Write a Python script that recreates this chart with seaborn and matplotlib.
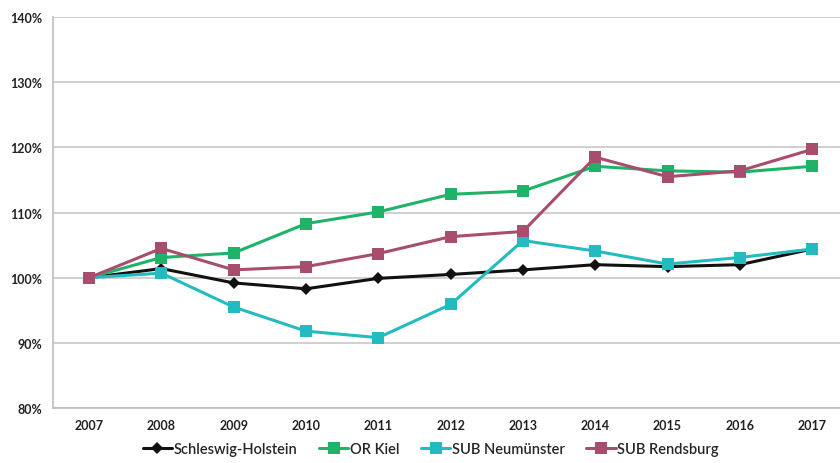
import matplotlib
matplotlib.use("Agg")
import matplotlib.pyplot as plt
from matplotlib.ticker import FixedLocator, FuncFormatter
import seaborn as sns
import pandas as pd

years = ["2007", "2008", "2009", "2010", "2011", "2012", "2013", "2014", "2015", "2016", "2017"]
schleswig_holstein = [100.0, 101.4, 99.2, 98.3, 99.9, 100.5, 101.2, 102.0, 101.7, 102.0, 104.4]
or_kiel = [100.0, 103.1, 103.8, 108.3, 110.1, 112.8, 113.3, 117.1, 116.4, 116.2, 117.1]
sub_neumuenster = [100.0, 100.7, 95.5, 91.8, 90.8, 95.9, 105.7, 104.1, 102.1, 103.1, 104.4]
sub_rendsburg = [100.0, 104.5, 101.2, 101.7, 103.7, 106.3, 107.1, 118.5, 115.5, 116.4, 119.7]

series = {
    "Schleswig-Holstein": schleswig_holstein,
    "OR Kiel": or_kiel,
    "SUB Neumünster": sub_neumuenster,
    "SUB Rendsburg": sub_rendsburg,
}
rows = []
for name, vals in series.items():
    for i, v in enumerate(vals):
        rows.append({"pos": i, "year": years[i], "Reihe": name, "Wert": v})
df = pd.DataFrame(rows)

palette = {
    "Schleswig-Holstein": "#111111",
    "OR Kiel": "#1fb36a",
    "SUB Neumünster": "#22bcc0",
    "SUB Rendsburg": "#a84d6e",
}
markers = {
    "Schleswig-Holstein": "D",
    "OR Kiel": "s",
    "SUB Neumünster": "s",
    "SUB Rendsburg": "s",
}

sns.set_style("white")
plt.rcParams["font.family"] = ["Lato", "DejaVu Sans"]

fig = plt.figure(figsize=(8.4, 4.64), dpi=100)
ax = fig.add_axes([0.063, 0.1185, 0.937, 0.8425])

sns.lineplot(data=df, x="pos", y="Wert", hue="Reihe", style="Reihe",
             palette=palette, markers=markers, dashes=False, linewidth=2.2,
             markeredgewidth=0, ax=ax, legend=True)

for line in ax.lines:
    if line.get_marker() == "D":
        line.set_markersize(6)
    else:
        line.set_markersize(8.5)

ax.set_xlim(-0.5, 10.385)
ax.set_ylim(80, 140)
ax.yaxis.set_major_locator(FixedLocator([80, 90, 100, 110, 120, 130, 140]))
ax.yaxis.set_major_formatter(FuncFormatter(lambda v, p: f"{int(round(v))}%"))

ax.xaxis.set_major_locator(FixedLocator(list(range(len(years)))))
ax.set_xticklabels(years)
ax.xaxis.set_minor_locator(FixedLocator([i - 0.5 for i in range(len(years) + 1)]))
ax.tick_params(axis="x", which="major", length=0, pad=8, labelsize=9, labelcolor="#222222")
ax.tick_params(axis="x", which="minor", length=5, width=1.2, color="#bdbdbd", direction="out")
ax.tick_params(axis="y", which="major", length=5, width=1.2, color="#bdbdbd", direction="out",
               labelsize=9, labelcolor="#222222", pad=3)
for t in ax.get_xticklabels() + ax.get_yticklabels():
    t.set_fontweight("bold")

ax.grid(axis="y", color="#c8c8c8", linewidth=1.2)
ax.set_axisbelow(True)
for side in ["top", "right"]:
    ax.spines[side].set_visible(False)
for side in ["left", "bottom"]:
    ax.spines[side].set_color("#bdbdbd")
    ax.spines[side].set_linewidth(1.2)
ax.set_xlabel("")
ax.set_ylabel("")

handles, labels = ax.get_legend_handles_labels()
ax.legend(handles, labels, loc="center", bbox_to_anchor=(0.48, -0.105), ncol=4,
          frameon=False, handlelength=2.0, handletextpad=0.1,
          columnspacing=1.5, prop={"weight": "semibold", "size": 10.5})

fig.savefig("out.png", dpi=100)
